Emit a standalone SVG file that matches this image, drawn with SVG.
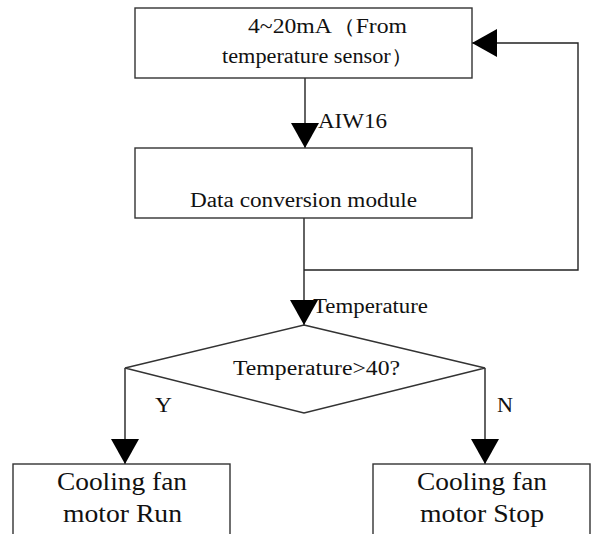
<svg xmlns="http://www.w3.org/2000/svg" width="592" height="534" viewBox="0 0 592 534">
<style>
.box{fill:#fff;stroke:#333;stroke-width:1.4}
.ln{fill:none;stroke:#222;stroke-width:1.4}
.t{font-family:'Liberation Serif','DejaVu Serif',serif;fill:#111;font-size:20px}
.b{font-size:25px}
</style>
<defs>
<marker id="ah" viewBox="0 0 25 28" refX="25" refY="14" markerWidth="25" markerHeight="28" markerUnits="userSpaceOnUse" orient="auto">
<path d="M0,0 L25,14 L0,28 Z" fill="#000"/>
</marker>
</defs>
<rect width="592" height="534" fill="#fff"/>
<g id="connectors">
<path class="ln" d="M305,78 V148" marker-end="url(#ah)"/>
<path class="ln" d="M304,218 V325" marker-end="url(#ah)"/>
<path class="ln" d="M304,270 H578 V43 H472" marker-end="url(#ah)"/>
<path class="ln" d="M125,368 V464" marker-end="url(#ah)"/>
<path class="ln" d="M485,368 V464" marker-end="url(#ah)"/>
<text class="t" x="318" y="128" textLength="69" lengthAdjust="spacingAndGlyphs">AIW16</text>
<text class="t" x="313" y="313" textLength="115" lengthAdjust="spacingAndGlyphs">Temperature</text>
<text class="t" x="155" y="412" textLength="17" lengthAdjust="spacingAndGlyphs">Y</text>
<text class="t" x="497" y="412" textLength="16" lengthAdjust="spacingAndGlyphs">N</text>
</g>
<g id="sensor">
<rect class="box" x="135" y="8" width="337" height="70"/>
<text class="t" x="248" y="33" textLength="159" lengthAdjust="spacingAndGlyphs">4~20mA（From</text>
<text class="t" x="222" y="63" textLength="191" lengthAdjust="spacingAndGlyphs">temperature sensor）</text>
</g>
<g id="conversion">
<rect class="box" x="135" y="148" width="337" height="70"/>
<text class="t" x="190" y="207" textLength="227" lengthAdjust="spacingAndGlyphs">Data conversion module</text>
</g>
<g id="decision">
<polygon class="box" points="304,325 485,368 304,413 125,368"/>
<text class="t" x="233" y="375" textLength="167" lengthAdjust="spacingAndGlyphs">Temperature&gt;40?</text>
</g>
<g id="run">
<rect class="box" x="13" y="464" width="217" height="80"/>
<text class="t b" x="57" y="490" textLength="130" lengthAdjust="spacingAndGlyphs">Cooling fan</text>
<text class="t b" x="63" y="522" textLength="119" lengthAdjust="spacingAndGlyphs">motor Run</text>
</g>
<g id="stop">
<rect class="box" x="373" y="464" width="217" height="80"/>
<text class="t b" x="417" y="490" textLength="130" lengthAdjust="spacingAndGlyphs">Cooling fan</text>
<text class="t b" x="420" y="522" textLength="124" lengthAdjust="spacingAndGlyphs">motor Stop</text>
</g>
</svg>
